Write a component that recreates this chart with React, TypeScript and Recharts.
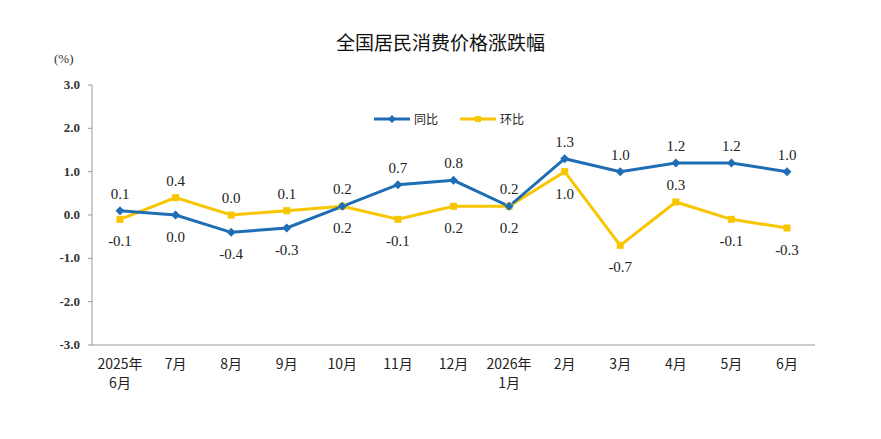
import React from "react";
import { LineChart, Line, XAxis, YAxis, LabelList } from "recharts";

const months = ["2025年|6月", "7月", "8月", "9月", "10月", "11月", "12月", "2026年|1月", "2月", "3月", "4月", "5月", "6月"];
const yoy = [0.1, 0.0, -0.4, -0.3, 0.2, 0.7, 0.8, 0.2, 1.3, 1.0, 1.2, 1.2, 1.0];
const mom = [-0.1, 0.4, 0.0, 0.1, 0.2, -0.1, 0.2, 0.2, 1.0, -0.7, 0.3, -0.1, -0.3];
// label placement: true = above point
const yoyAbove = [true, false, false, false, false, true, true, true, true, true, true, true, true];
const momAbove = [false, true, true, true, true, false, false, false, false, false, true, false, false];
const yTicks = [-3, -2, -1, 0, 1, 2, 3];

const BLUE = "#1f6db5";
const YELLOW = "#f7c600";
const SERIF = "'Liberation Serif', 'Times New Roman', serif";
const CJK = "'Noto Sans CJK SC', sans-serif";

const data = months.map((m, i) => ({ month: m, yoy: yoy[i], mom: mom[i], i }));

const Diamond = (props: any) => {
  const { cx, cy } = props;
  return <path d={`M${cx},${cy - 4.5}L${cx + 4.5},${cy}L${cx},${cy + 4.5}L${cx - 4.5},${cy}Z`} fill={BLUE} />;
};
const Square = (props: any) => {
  const { cx, cy } = props;
  return <rect x={cx - 3.5} y={cy - 3.5} width={7} height={7} fill={YELLOW} />;
};

const makeLabel = (above: boolean[]) => (props: any) => {
  const { x, y, value, index } = props;
  const up = above[index];
  return (
    <text x={x} y={up ? y - 12 : y + 27} textAnchor="middle" fontFamily={SERIF} fontSize={15} fill="#222">
      {Number(value).toFixed(1)}
    </text>
  );
};

const XTick = (props: any) => {
  const { x, y, payload } = props;
  const parts = String(payload.value).split("|");
  return (
    <g>
      {parts.map((p, k) => (
        <text key={k} x={x} y={y + 16 + k * 19} textAnchor="middle" fontFamily={CJK} fontSize={14} fill="#222">
          {p}
        </text>
      ))}
    </g>
  );
};

const YTick = (props: any) => {
  const { x, y, payload } = props;
  return (
    <text x={x - 6} y={y + 4} textAnchor="end" fontFamily={SERIF} fontSize={13} fontWeight="bold" fill="#333">
      {Number(payload.value).toFixed(1)}
    </text>
  );
};

const pad = { left: 28, right: 28 };

export default function App() {
  return (
    <div style={{ position: "relative", width: 881, height: 439, margin: -8, background: "#fff" }}>
      <div style={{ position: "absolute", left: 0, width: 881, top: 28, textAlign: "center", fontFamily: CJK, fontSize: 19, color: "#111" }}>
        全国居民消费价格涨跌幅
      </div>
      <div style={{ position: "absolute", left: 54, top: 51, fontFamily: SERIF, fontSize: 13, color: "#333" }}>(%)</div>
      <div style={{ position: "absolute", left: 374, top: 110, display: "flex", alignItems: "center", fontFamily: CJK, fontSize: 12, color: "#222" }}>
        <svg width={36} height={12}><line x1={0} y1={6} x2={36} y2={6} stroke={BLUE} strokeWidth={3} /><path d="M18,2L22,6L18,10L14,6Z" fill={BLUE} /></svg>
        <span style={{ marginLeft: 4, marginRight: 22 }}>同比</span>
        <svg width={36} height={12}><line x1={0} y1={6} x2={36} y2={6} stroke={YELLOW} strokeWidth={3} /><rect x={15} y={3} width={6} height={6} fill={YELLOW} /></svg>
        <span style={{ marginLeft: 4 }}>环比</span>
      </div>
      <LineChart width={881} height={439} data={data} margin={{ top: 85, right: 66, bottom: 0, left: 0 }}>
        <XAxis dataKey="month" height={94} padding={pad} tick={<XTick />} tickLine={false} axisLine={{ stroke: "#999" }} interval={0} />
        <XAxis xAxisId="top" dataKey="month" orientation="top" height={0} padding={pad} tick={false} tickLine={false} axisLine={{ stroke: "#999" }} />
        <YAxis width={92} domain={[-3, 3]} ticks={yTicks} tick={<YTick />} tickLine={{ stroke: "#999" }} tickSize={4} axisLine={{ stroke: "#999" }} />
        <YAxis yAxisId="right" orientation="right" width={0} domain={[-3, 3]} tick={false} tickLine={false} axisLine={{ stroke: "#999" }} />
        <Line dataKey="mom" stroke={YELLOW} strokeWidth={3} dot={<Square />} activeDot={false} isAnimationActive={false}>
          <LabelList dataKey="mom" content={makeLabel(momAbove)} />
        </Line>
        <Line dataKey="yoy" stroke={BLUE} strokeWidth={3} dot={<Diamond />} activeDot={false} isAnimationActive={false}>
          <LabelList dataKey="yoy" content={makeLabel(yoyAbove)} />
        </Line>
      </LineChart>
    </div>
  );
}
